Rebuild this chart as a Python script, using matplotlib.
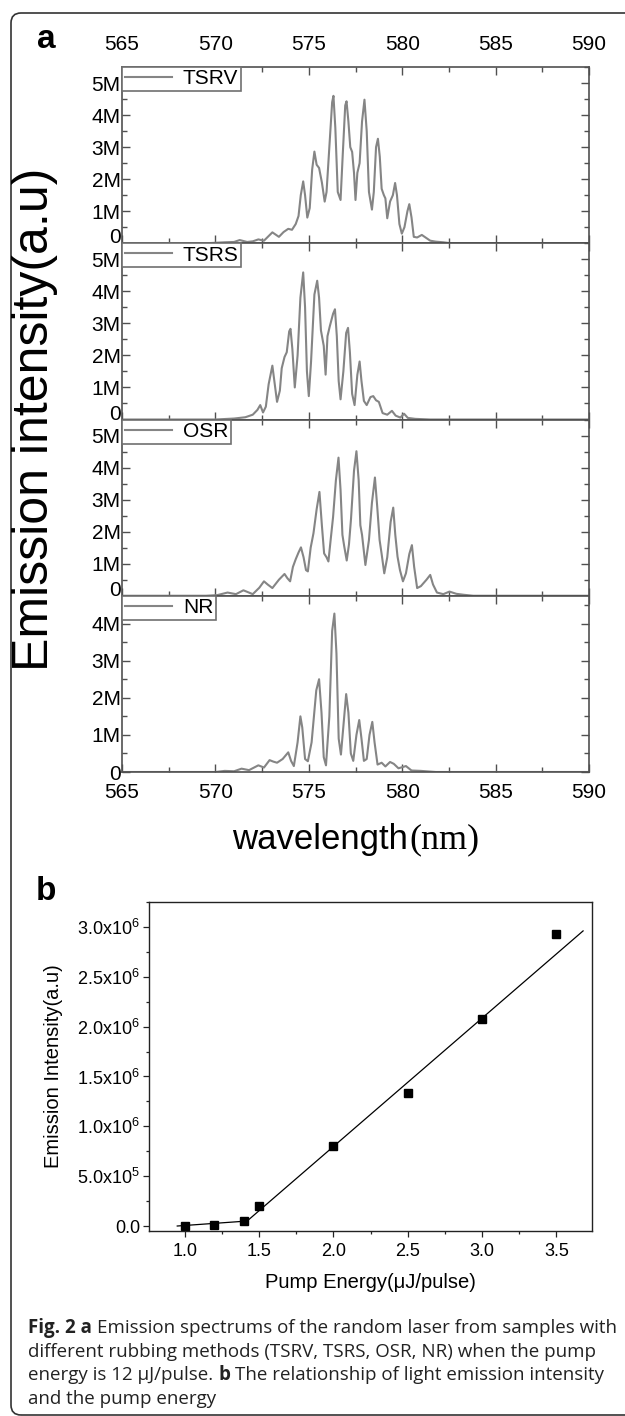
import matplotlib
matplotlib.use('Agg')
import matplotlib.pyplot as plt
from matplotlib.patches import FancyBboxPatch
from matplotlib.ticker import MultipleLocator, FuncFormatter
from matplotlib.transforms import IdentityTransform

# ---------------- data ----------------
series_names = ['TSRV', 'TSRS', 'OSR', 'NR']

wl_tsrv = [565, 569.5, 570.5, 571.0, 571.3, 571.7, 572.0, 572.3, 572.6, 573.05, 573.4, 573.65, 573.9, 574.1,
           574.3, 574.45, 574.57, 574.7, 574.8, 574.92, 575.05, 575.18, 575.3, 575.42, 575.55, 575.7, 575.85,
           575.95, 576.1, 576.25, 576.32, 576.42, 576.55, 576.7, 576.82, 576.95, 577.02, 577.12, 577.22, 577.32,
           577.42, 577.5, 577.6, 577.72, 577.85, 577.98, 578.1, 578.22, 578.38, 578.48, 578.6, 578.7, 578.8,
           578.9, 579.02, 579.1, 579.2, 579.35, 579.5, 579.62, 579.72, 579.85, 579.98, 580.12, 580.28, 580.38,
           580.5, 580.62, 580.8, 581.05, 581.25, 581.5, 581.8, 582.2, 582.6, 590]
int_tsrv = [0, 0, 0.03, 0.04, 0.1, 0.04, 0.06, 0.12, 0.08, 0.34, 0.2, 0.35, 0.45, 0.42,
            0.6, 0.85, 1.5, 1.93, 1.5, 0.8, 1.1, 2.3, 2.86, 2.45, 2.35, 1.9, 1.3,
            1.6, 3.0, 4.4, 4.6, 3.6, 1.6, 1.35, 2.8, 4.3, 4.43, 3.8, 3.0, 2.85,
            2.2, 1.35, 2.2, 2.5, 3.8, 4.48, 3.5, 1.6, 1.05, 1.6, 3.0, 3.26, 2.7,
            1.7, 1.5, 1.4, 0.78, 1.3, 1.5, 1.88, 1.5, 0.6, 0.3, 0.5, 1.0, 1.22,
            0.8, 0.2, 0.18, 0.26, 0.18, 0.08, 0.05, 0.03, 0, 0]

wl_tsrs = [565, 570, 571, 571.6, 572.0, 572.25, 572.4, 572.55, 572.7, 572.85, 573.05, 573.2, 573.3, 573.45,
           573.55, 573.7, 573.82, 573.95, 574.02, 574.12, 574.25, 574.4, 574.55, 574.7, 574.8, 574.9, 575.0,
           575.12, 575.3, 575.45, 575.55, 575.65, 575.8, 575.9, 576.0, 576.12, 576.3, 576.4, 576.5, 576.6,
           576.7, 576.85, 577.0, 577.1, 577.2, 577.32, 577.45, 577.6, 577.72, 577.82, 577.95, 578.1, 578.3,
           578.45, 578.6, 578.75, 578.95, 579.2, 579.45, 579.65, 579.9, 580.1, 580.3, 580.7, 581.5, 590]
int_tsrs = [0, 0, 0.03, 0.07, 0.15, 0.3, 0.45, 0.22, 0.4, 1.1, 1.68, 1.0, 0.55, 0.9,
            1.6, 1.95, 2.1, 2.75, 2.83, 2.2, 1.0, 2.0, 3.8, 4.59, 3.5, 1.5, 0.73,
            1.8, 3.9, 4.33, 3.8, 2.78, 2.3, 1.4, 2.6, 2.9, 3.3, 3.44, 2.6, 1.2,
            0.63, 1.5, 2.7, 2.86, 2.1, 0.8, 0.45, 1.4, 1.81, 1.2, 0.58, 0.45, 0.7,
            0.73, 0.6, 0.55, 0.2, 0.15, 0.27, 0.12, 0.06, 0.18, 0.05, 0.02, 0, 0]

wl_osr = [565, 569.5, 570.1, 570.65, 571.1, 571.5, 572.0, 572.35, 572.6, 572.8, 573.05, 573.4, 573.7, 573.85,
          574.0, 574.15, 574.3, 574.45, 574.58, 574.72, 574.85, 574.95, 575.1, 575.25, 575.42, 575.57, 575.7,
          575.82, 575.95, 576.05, 576.18, 576.3, 576.45, 576.59, 576.7, 576.8, 576.9, 577.03, 577.15, 577.26,
          577.42, 577.55, 577.67, 577.76, 577.85, 578.03, 578.22, 578.38, 578.54, 578.66, 578.79, 578.9, 579.04,
          579.2, 579.38, 579.52, 579.63, 579.75, 579.88, 580.04, 580.2, 580.38, 580.52, 580.64, 580.8, 581.0,
          581.3, 581.5, 581.65, 581.86, 582.2, 582.53, 582.9, 583.3, 583.8, 590]
int_osr = [0, 0, 0.02, 0.1, 0.05, 0.17, 0.05, 0.25, 0.45, 0.35, 0.24, 0.5, 0.68, 0.55,
           0.45, 0.9, 1.14, 1.35, 1.51, 1.2, 0.8, 0.76, 1.5, 1.95, 2.7, 3.24, 2.2,
           1.32, 1.2, 1.07, 1.8, 2.46, 3.6, 4.31, 3.3, 1.9, 1.53, 1.1, 1.6, 2.4,
           3.9, 4.51, 3.6, 2.2, 1.9, 0.96, 1.74, 2.9, 3.69, 2.8, 1.74, 1.3, 0.7,
           1.2, 2.3, 2.75, 1.9, 1.22, 0.8, 0.45, 0.7, 1.3, 1.58, 0.9, 0.24, 0.3,
           0.5, 0.65, 0.35, 0.1, 0.05, 0.13, 0.06, 0.03, 0, 0]

wl_nr = [565, 570.0, 570.5, 571.0, 571.4, 571.8, 572.3, 572.6, 572.9, 573.1, 573.3, 573.6, 573.9, 574.05,
         574.2, 574.4, 574.55, 574.65, 574.8, 574.95, 575.15, 575.4, 575.55, 575.68, 575.8, 575.92, 576.1,
         576.25, 576.37, 576.48, 576.6, 576.72, 576.88, 577.0, 577.12, 577.25, 577.38, 577.55, 577.7, 577.82,
         577.95, 578.1, 578.25, 578.4, 578.52, 578.68, 578.9, 579.1, 579.35, 579.55, 579.8, 580.2, 580.5,
         581.0, 581.8, 590]
int_nr = [0, 0, 0.03, 0.02, 0.09, 0.05, 0.18, 0.12, 0.32, 0.28, 0.25, 0.35, 0.53, 0.3,
          0.16, 0.8, 1.5, 1.2, 0.35, 0.29, 0.8, 2.2, 2.5, 1.6, 0.4, 0.18, 1.5,
          3.8, 4.27, 3.2, 0.9, 0.47, 1.4, 2.1, 1.6, 0.5, 0.3, 1.0, 1.4, 0.9,
          0.3, 0.35, 1.0, 1.35, 0.8, 0.2, 0.25, 0.15, 0.27, 0.22, 0.1, 0.16, 0.04,
          0.03, 0, 0]

wavelengths = [wl_tsrv, wl_tsrs, wl_osr, wl_nr]
intensities = [int_tsrv, int_tsrs, int_osr, int_nr]
y_tops = [5.5, 5.5, 5.5, 4.75]

pump_energy = [1.0, 1.2, 1.4, 1.5, 2.0, 2.5, 3.0, 3.5]
emission = [0.0, 0.01e6, 0.05e6, 0.2e6, 0.8e6, 1.33e6, 2.08e6, 2.93e6]
fit_x = [0.95, 1.42, 3.68]
fit_y = [0.0, 0.05e6, 2.96e6]

caption_lines = [
    [("Fig. 2 a", "bold"), (" Emission spectrums of the random laser from samples with", "normal")],
    [("different rubbing methods (TSRV, TSRS, OSR, NR) when the pump", "normal")],
    [("energy is 12 \u03bcJ/pulse.", "normal"), (" b", "bold"), (" The relationship of light emission intensity", "normal")],
    [("and the pump energy", "normal")],
]

# ---------------- figure ----------------
W, H = 625, 1416
plt.rcParams['font.family'] = ['Liberation Sans', 'DejaVu Sans']
plt.rcParams['mathtext.fontset'] = 'custom'
plt.rcParams['mathtext.rm'] = 'Liberation Sans'
plt.rcParams['mathtext.it'] = 'Liberation Sans:italic'
plt.rcParams['mathtext.bf'] = 'Liberation Sans:bold'

fig = plt.figure(figsize=(W / 100, H / 100), dpi=100)
fig.patch.set_facecolor('white')


def fx(x):
    return x / W


def fy(y):
    return 1 - y / H


def add_ax(l, t, r, b):
    return fig.add_axes([fx(l), fy(b), (r - l) / W, (b - t) / H])


renderer = fig.canvas.get_renderer()


def width_of(t):
    return t.get_window_extent(renderer=renderer).width


# outer frame
frame = FancyBboxPatch((11, 1), 700, 1403 - 1, boxstyle="round,pad=0,rounding_size=10",
                       transform=IdentityTransform(), fill=False, edgecolor='#333333', lw=1.2)
fig.add_artist(frame)

# ---------------- panel a ----------------
spine_col = '#505050'
line_col = '#858585'
a_left, a_right, a_top, a_bot = 122, 589, 67, 772
ph = (a_bot - a_top) / 4


def mfmt(v, p):
    if abs(v) < 1e-9:
        return '0'
    return f'{int(round(v))}M'


axes_a = []
for i, (name, wl, iv, yt) in enumerate(zip(series_names, wavelengths, intensities, y_tops)):
    ax = add_ax(a_left, a_top + i * ph, a_right, a_top + (i + 1) * ph)
    axes_a.append(ax)
    ax.plot(wl, iv, color=line_col, lw=1.5, label=name, solid_joinstyle='round')
    ax.set_xlim(565, 590)
    ax.set_ylim(0, yt)
    ax.xaxis.set_major_locator(MultipleLocator(5))
    ax.xaxis.set_minor_locator(MultipleLocator(2.5))
    ax.yaxis.set_major_locator(MultipleLocator(1))
    ax.yaxis.set_minor_locator(MultipleLocator(0.5))
    ax.yaxis.set_major_formatter(FuncFormatter(mfmt))
    for s in ax.spines.values():
        s.set_color(spine_col)
        s.set_linewidth(1.2)
    ax.tick_params(which='both', direction='in', top=True, right=True, bottom=True, left=True,
                   color=spine_col, width=1.0)
    ax.tick_params(which='major', length=6)
    ax.tick_params(which='minor', length=3.5)
    ax.tick_params(axis='y', labelsize=15, pad=1)
    ax.tick_params(axis='x', labelsize=15)
    if i == 0:
        ax.tick_params(axis='x', labeltop=True, labelbottom=False, pad=9)
    elif i == 3:
        ax.tick_params(axis='x', labeltop=False, labelbottom=True, pad=8)
    else:
        ax.tick_params(axis='x', labeltop=False, labelbottom=False)
    leg = ax.legend(loc='upper left', bbox_to_anchor=(0, 1), borderaxespad=0, frameon=True,
                    fancybox=False, framealpha=1, fontsize=15, handlelength=2.3,
                    handletextpad=0.5, borderpad=0.12)
    leg.get_frame().set_edgecolor('#707070')
    leg.get_frame().set_linewidth(1.2)

fig.text(fx(35), fy((a_top + a_bot) / 2), 'Emission intensity(a.u)', rotation=90,
         fontsize=36, ha='center', va='center')

# wavelength(nm) label, mixed fonts
t1 = fig.text(0, fy(840), 'wavelength', fontsize=25, ha='left', va='center')
t2 = fig.text(0, fy(840), '(nm)', fontsize=26, family='Liberation Serif', ha='left', va='center')
w1, w2 = width_of(t1), width_of(t2)
cx = (a_left + a_right) / 2
t1.set_x(fx(cx - (w1 + w2) / 2))
t2.set_x(fx(cx - (w1 + w2) / 2 + w1 + 1))

fig.text(fx(46), fy(40), 'a', fontsize=24, fontweight='bold', ha='center', va='center')
fig.text(fx(46), fy(891), 'b', fontsize=24, fontweight='bold', ha='center', va='center')

# ---------------- panel b ----------------
b_left, b_right, b_top, b_bot = 149, 592, 902, 1231
axb = add_ax(b_left, b_top, b_right, b_bot)
axb.plot(fit_x, fit_y, color='black', lw=0.9)
axb.plot(pump_energy, emission, 's', color='black', ms=5.5)
axb.set_xlim(0.76, 3.74)
axb.set_ylim(-0.05e6, 3.25e6)
axb.xaxis.set_major_locator(MultipleLocator(0.5))
axb.xaxis.set_minor_locator(MultipleLocator(0.25))
axb.yaxis.set_major_locator(MultipleLocator(0.5e6))
axb.yaxis.set_minor_locator(MultipleLocator(0.25e6))


def sci_fmt(v, p):
    if abs(v) < 1:
        return '0.0'
    exp = 0
    m = v
    while m >= 10:
        m /= 10
        exp += 1
    return f'{m:.1f}x10$^{{{exp}}}$'


axb.yaxis.set_major_formatter(FuncFormatter(sci_fmt))
axb.xaxis.set_major_formatter(FuncFormatter(lambda v, p: f'{v:.1f}'))
for s in axb.spines.values():
    s.set_color('#222222')
    s.set_linewidth(1.0)
axb.tick_params(which='both', direction='out', top=False, right=False, color='#222222', width=0.9)
axb.tick_params(which='major', length=4.5)
axb.tick_params(which='minor', length=2.5)
axb.tick_params(axis='both', labelsize=13)
axb.tick_params(axis='y', pad=2)
axb.tick_params(axis='x', pad=4)

fig.text(fx((b_left + b_right) / 2), fy(1283), 'Pump Energy(\u03bcJ/pulse)', fontsize=14.5,
         ha='center', va='center')
fig.text(fx(54), fy((b_top + b_bot) / 2), 'Emission Intensity(a.u)', rotation=90, fontsize=14.5,
         ha='center', va='center')

# ---------------- caption ----------------
cap_family = ['Open Sans', 'DejaVu Sans']
probe = fig.text(0, 0, caption_lines[0][0][0], fontsize=12, family=cap_family, fontweight='bold')
probe2 = fig.text(0, 0, caption_lines[0][1][0].strip(), fontsize=12, family=cap_family)
sp = fig.text(0, 0, 'x x', fontsize=12, family=cap_family)
sp0 = fig.text(0, 0, 'xx', fontsize=12, family=cap_family)
space12 = width_of(sp) - width_of(sp0)
line1_w = width_of(probe) + width_of(probe2) + space12
cap_size = 12 * 588 / line1_w
for t in (probe, probe2, sp, sp0):
    t.remove()
space_w = space12 * cap_size / 12

cap_x0 = 28
baselines = [1333, 1357, 1380, 1404]
for runs, yb in zip(caption_lines, baselines):
    x = cap_x0
    for j, (s, wgt) in enumerate(runs):
        if s.startswith(' '):
            x += space_w
            s = s.lstrip(' ')
        t = fig.text(fx(x), fy(yb), s, fontsize=cap_size, fontweight=wgt, family=cap_family,
                     ha='left', va='baseline', color='#222222')
        x += width_of(t)

# "0" labels of the upper three panels sit on their bottom spine
fig.canvas.draw()
for i, ax in enumerate(axes_a[:3]):
    for tk in ax.yaxis.get_major_ticks():
        if abs(tk.get_loc()) < 1e-9:
            tk.label1.set_verticalalignment('baseline')

fig.savefig('out.png', dpi=100, facecolor='white')
